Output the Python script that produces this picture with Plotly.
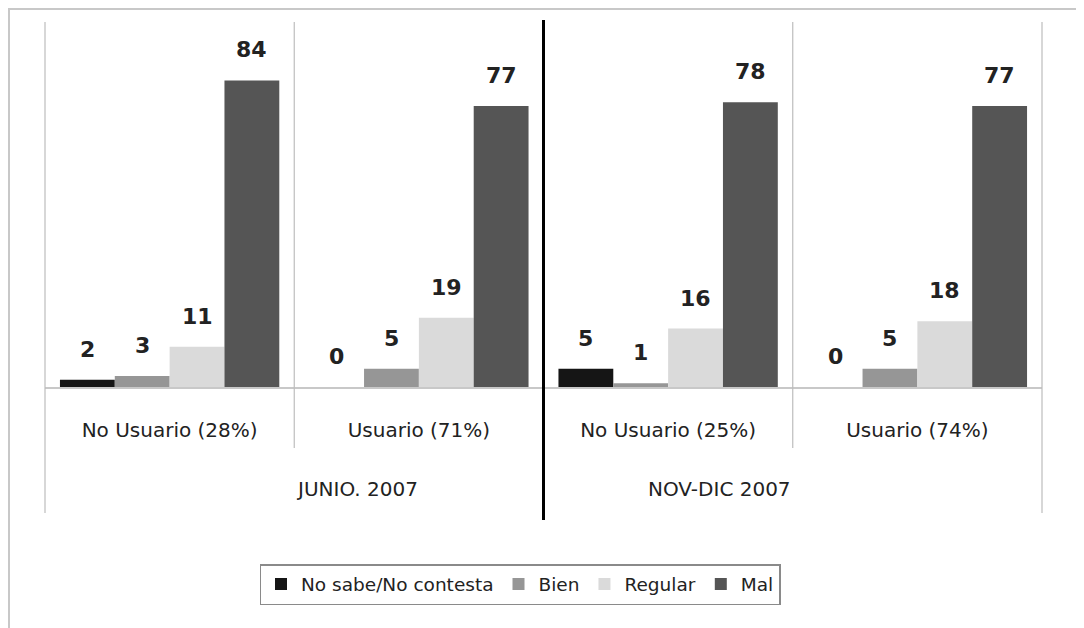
import plotly.graph_objects as go

periods = ["JUNIO. 2007", "NOV-DIC 2007"]
categories = ["No Usuario (28%)", "Usuario (71%)", "No Usuario (25%)", "Usuario (74%)"]
series_names = ["No sabe/No contesta", "Bien", "Regular", "Mal"]
no_sabe = [2, 0, 5, 0]
bien = [3, 5, 1, 5]
regular = [11, 19, 16, 18]
mal = [84, 77, 78, 77]

series_values = [no_sabe, bien, regular, mal]
colors = ["#151515", "#969696", "#dadada", "#555555"]

W, H = 1084, 628
OFF = 8  # page body margin
ML, MT = 45 - OFF, 22 - OFF
plot_w, plot_h = 997, 365
MR = W - ML - plot_w
MB = H - MT - plot_h
BARGAP = 0.12

def py(ypix):
    return (MT + plot_h - (ypix - OFF)) / plot_h

def px(xpix):
    return (xpix - OFF - ML) / plot_w

fig = go.Figure()
for name, vals, col in zip(series_names, series_values, colors):
    fig.add_trace(go.Bar(x=categories, y=vals, name=name, marker=dict(color=col, line=dict(width=0))))

bar_w = plot_w / len(categories) * (1 - BARGAP) / len(series_names)
annotations = []
for i, vals in enumerate(series_values):
    for c, v in zip(categories, vals):
        annotations.append(dict(
            x=c, y=v, xref="x", yref="y", text=str(v), showarrow=False,
            xshift=(i - 1.5) * bar_w, yshift=16, yanchor="bottom",
            font=dict(family="DejaVu Sans", size=22, color="#222222", weight="bold")))

for j, p in enumerate(periods):
    annotations.append(dict(
        x=0.25 + 0.5 * j, y=py(489), xref="paper", yref="paper", text=p, showarrow=False,
        font=dict(family="DejaVu Sans", size=20, color="#222222"), yanchor="middle"))

shapes = []
# outer frame (at the figure's top-left edge)
shapes.append(dict(type="rect", xref="paper", yref="paper", x0=px(9), x1=px(1100), y0=py(645), y1=py(9),
                   line=dict(color="#c8c8c8", width=2), layer="below"))
for xp, ybot, col, wd, ytop in [(0, 513, "#bdbdbd", 1.2, 22), (0.25, 448, "#bdbdbd", 1.2, 22),
                                 (0.75, 448, "#bdbdbd", 1.2, 22), (1, 513, "#bdbdbd", 1.2, 22),
                                 (0.5, 520, "#000000", 3, 20)]:
    shapes.append(dict(type="line", xref="paper", yref="paper", x0=xp, x1=xp, y0=py(ybot), y1=py(ytop),
                       line=dict(color=col, width=wd)))

fig.update_layout(
    width=W, height=H,
    margin=dict(l=ML, r=MR, t=MT, b=MB, autoexpand=False),
    paper_bgcolor="white", plot_bgcolor="white",
    barmode="group", bargap=BARGAP, bargroupgap=0,
    showlegend=True,
    legend=dict(orientation="h", x=px(520), xanchor="center", y=py(564), yanchor="top",
                font=dict(family="DejaVu Sans", size=18.5, color="#222222"),
                bordercolor="#8a8a8a", borderwidth=1.5, bgcolor="white",
                traceorder="normal", itemclick=False),
    xaxis=dict(type="category", showgrid=False, showline=True, linecolor="#c8c8c8", linewidth=1.5,
               ticks="", tickfont=dict(family="DejaVu Sans", size=20, color="#222222"),
               ticklabelstandoff=24, fixedrange=True),
    yaxis=dict(range=[0, 100], visible=False, fixedrange=True),
    annotations=annotations, shapes=shapes,
)

fig.write_html("out.html")
